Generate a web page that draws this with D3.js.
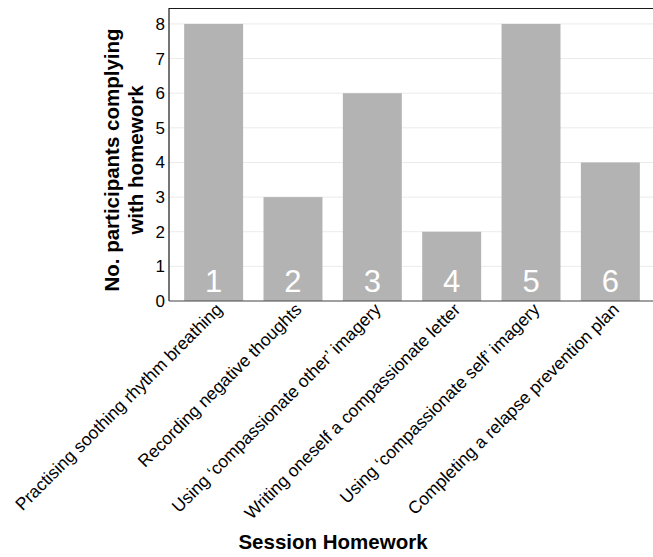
<!DOCTYPE html>
<html>
<head>
<meta charset="utf-8">
<script src="https://cdn.jsdelivr.net/npm/d3@7"></script>
<style>
  body { margin: 0; background: #fff; }
  text { font-family: "Liberation Sans", Arial, sans-serif; }
</style>
</head>
<body>
<div id="chart"></div>
<script>
// homework tasks, one bar each
var sessions = [1, 2, 3, 4, 5, 6];
var tasks = [
  "Practising soothing rhythm breathing",
  "Recording negative thoughts",
  "Using \u2018compassionate other\u2019 imagery",
  "Writing oneself a compassionate letter",
  "Using \u2018compassionate self\u2019 imagery",
  "Completing a relapse prevention plan"
];
var participants = [8, 3, 6, 2, 8, 4];
var yTicks = [0, 1, 2, 3, 4, 5, 6, 7, 8];

var width = 653, height = 557;
var margin = {top: 8, right: 0, bottom: 256, left: 169};

var svg = d3.select('#chart')
  .append('svg')
    .attr('width', width)
    .attr('height', height);

var x = d3.scaleBand()
  .domain(sessions)
  .range([174, 650])
  .paddingInner(0.257)
  .paddingOuter(0.128);

var y = d3.scaleLinear()
  .domain([0, 8.46])
  .range([301, 8]);

// grid
svg.append('g')
  .selectAll('line')
  .data(yTicks)
  .enter()
  .append('line')
    .attr('x1', margin.left)
    .attr('x2', width)
    .attr('y1', d => y(d))
    .attr('y2', d => y(d))
    .attr('stroke', '#ebebeb')
    .attr('stroke-width', 1);

// bars
svg.append('g')
  .selectAll('rect')
  .data(sessions)
  .enter()
  .append('rect')
    .attr('x', d => x(d))
    .attr('width', x.bandwidth())
    .attr('y', (d, i) => y(participants[i]))
    .attr('height', (d, i) => y(0) - y(participants[i]))
    .attr('fill', '#b3b3b3');

// session numbers in bars
svg.append('g')
  .selectAll('text')
  .data(sessions)
  .enter()
  .append('text')
    .attr('x', d => x(d) + x.bandwidth() / 2)
    .attr('y', y(0) - 9)
    .attr('text-anchor', 'middle')
    .attr('fill', '#fff')
    .attr('font-size', '31px')
    .text(d => d);

// frame: top line, left and bottom axes
svg.append('line')
  .attr('x1', margin.left).attr('x2', width)
  .attr('y1', 8.5).attr('y2', 8.5)
  .attr('stroke', '#1a1a1a').attr('stroke-width', 1.2);

var yAxis = d3.axisLeft(y).tickValues(yTicks).tickSize(0).tickPadding(4);
var gy = svg.append('g')
  .attr('transform', 'translate(' + margin.left + ',0)')
  .call(yAxis);
gy.select('.domain').attr('d', 'M0,8V301').attr('stroke', '#1a1a1a').attr('stroke-width', 1.2);
gy.selectAll('text').attr('font-size', '17px').attr('fill', '#000')
  .style('font-family', '"Liberation Sans", Arial, sans-serif');

var xAxis = d3.axisBottom(x).tickSize(0).tickFormat((d, i) => tasks[i]);
var gx = svg.append('g')
  .attr('transform', 'translate(0,301)')
  .call(xAxis);
gx.select('.domain').attr('d', 'M' + margin.left + ',0H' + width).attr('stroke', '#4d4d4d').attr('stroke-width', 1.2);
gx.selectAll('text')
  .attr('font-size', '17.5px')
  .attr('fill', '#000')
  .style('font-family', '"Liberation Sans", Arial, sans-serif')
  .attr('text-anchor', 'end')
  .attr('dy', '0.7em')
  .attr('y', 0)
  .attr('transform', 'translate(1,1) rotate(-45)');

// axis titles
var yt = svg.append('text')
  .attr('transform', 'translate(119,160) rotate(-90)')
  .attr('text-anchor', 'middle')
  .attr('font-size', '20.5px')
  .attr('font-weight', 'bold');
yt.append('tspan').attr('x', 0).attr('dy', 0).text('No. participants complying');
yt.append('tspan').attr('x', 0).attr('dy', 24).text('with homework');

svg.append('text')
  .attr('x', 333)
  .attr('y', 549)
  .attr('text-anchor', 'middle')
  .attr('font-size', '20.5px')
  .attr('font-weight', 'bold')
  .text('Session Homework');
</script>
</body>
</html>
